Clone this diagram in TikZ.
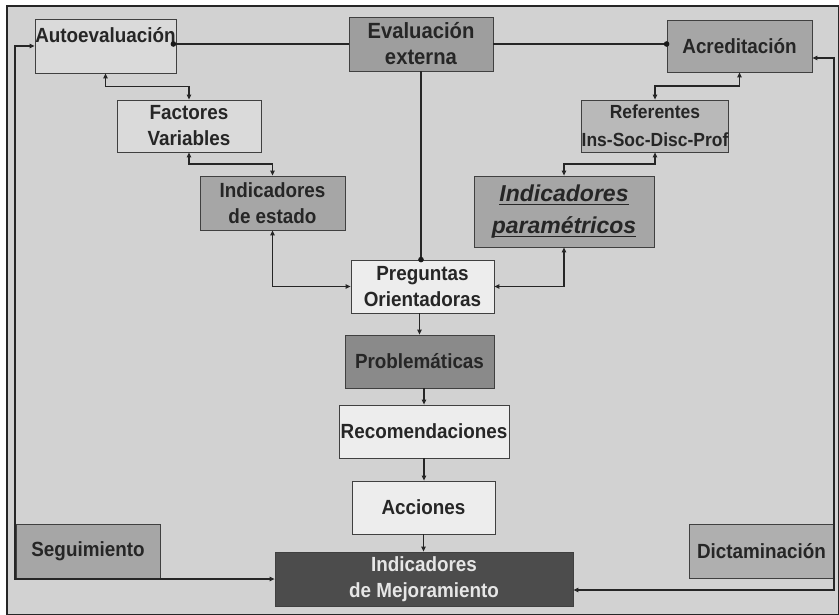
\documentclass[tikz,border=0pt]{standalone}
\usepackage{fontspec}
\setmainfont{Liberation Sans}
\newfontfamily\dfont{Liberation Sans}[FakeStretch=0.92]
\newfontfamily\pfont{Liberation Sans}
\usetikzlibrary{arrows.meta,calc}
\definecolor{bgc}{HTML}{D2D2D2}
\definecolor{lightbox}{HTML}{DADADA}
\definecolor{whitebox}{HTML}{EDEDED}
\definecolor{midbox}{HTML}{A6A6A6}
\definecolor{refbox}{HTML}{B9B9B9}
\definecolor{probbox}{HTML}{8A8A8A}
\definecolor{darkbox}{HTML}{4C4C4C}
\definecolor{lighttext}{HTML}{E6E6E6}
\newcommand{\thickul}[1]{\setbox0=\hbox{#1}\leavevmode\rlap{\rule[-4pt]{\wd0}{1.8pt}}\box0}
\tikzset{
  box/.style={draw=black!75, line width=0.8pt, inner sep=0pt, align=center,
    text=black!85, font=\dfont\bfseries\fontsize{20.5}{26}\selectfont},
  conn/.style={line width=1.1pt, draw=black!85},
  dbl/.style={conn, {Triangle[length=5pt,width=4.5pt]}-{Triangle[length=5pt,width=4.5pt]}},
  arr/.style={conn, -{Triangle[length=5pt,width=4.5pt]}},
  dotmark/.style={fill=black!90},
}
\begin{document}
\begin{tikzpicture}[x=1pt,y=-1pt]
\useasboundingbox (0,0) rectangle (839,615);
\fill[white] (0,0) rectangle (839,615);
\fill[bgc] (7,6) rectangle (839,615);
\draw[line width=1.4pt, black!85] (7,614.5) -- (7,6) -- (838.5,6) -- (838.5,614.5) -- cycle;

% nodes
\node[box, fill=lightbox, minimum width=141pt, minimum height=54pt, text depth=22pt] (auto) at (105.5,46) {Autoevaluación};
\node[box, fill=midbox!95!black, minimum width=144pt, minimum height=54pt, font=\dfont\bfseries\fontsize{22}{26}\selectfont] (eval) at (421,44) {Evaluación\\externa};
\node[box, fill=midbox, minimum width=145pt, minimum height=52pt] (acred) at (739.5,46) {Acreditación};
\node[box, fill=lightbox, minimum width=144pt, minimum height=52pt] (fact) at (189,126) {Factores\\Variables};
\node[box, fill=refbox, minimum width=144pt, minimum height=52pt, font=\dfont\bfseries\fontsize{19}{28}\selectfont] (ref) at (655,126) {Referentes\\Ins-Soc-Disc-Prof};
\node[box, fill=midbox, minimum width=145pt, minimum height=54pt] (indest) at (272.5,203) {Indicadores\\de estado};
\node[box, fill=refbox!90!black, minimum width=180pt, minimum height=71pt, font=\pfont\bfseries\itshape\fontsize{23}{32}\selectfont] (indpar) at (564,211.5) {\thickul{Indicadores}\\\thickul{paramétricos}};
\node[box, fill=whitebox, minimum width=143pt, minimum height=53pt] (preg) at (422.5,286.5) {Preguntas\\Orientadoras};
\node[box, fill=probbox, minimum width=149pt, minimum height=53pt] (prob) at (419.5,361.5) {Problemáticas};
\node[box, fill=whitebox, minimum width=170pt, minimum height=53pt] (recom) at (424,431.5) {Recomendaciones};
\node[box, fill=whitebox, minimum width=143pt, minimum height=53pt] (acc) at (423.5,507.5) {Acciones};
\node[box, fill=darkbox, text=lighttext, minimum width=298pt, minimum height=54pt] (mejor) at (424,579) {Indicadores\\de Mejoramiento};
\node[box, fill=midbox, minimum width=144pt, minimum height=55pt] (seg) at (88,551.5) {Seguimiento};
\node[box, fill=midbox!90!white, minimum width=145pt, minimum height=54pt] (dict) at (761.5,551) {Dictaminación};

\coordinate (lc) at (15,579);
\coordinate (rc) at (834,590);

% connectors from Evaluación externa, ending in dots
\draw[conn] (eval.west) -- (eval.west -| auto.east);
\fill[dotmark] ([xshift=-3pt]eval.west -| auto.east) circle (2.8pt);
\draw[conn] (eval.east) -- (eval.east -| acred.west);
\fill[dotmark] (eval.east -| acred.west) circle (2.8pt);
\draw[conn] (eval.south) -- (eval.south |- preg.north);
\fill[dotmark] (eval.south |- preg.north) circle (2.8pt);

\draw[dbl] (auto.south) |- ($(auto.south)!0.5!(fact.north)$) -| (fact.north);
\draw[dbl] (fact.south) |- ($(fact.south)!0.5!(indest.north)$) -| (indest.north);
\draw[dbl] (acred.south) |- ($(acred.south)!0.5!(ref.north)$) -| (ref.north);
\draw[dbl] (ref.south) |- ($(ref.south)!0.5!(indpar.north)$) -| (indpar.north);
\draw[dbl] (indest.south) |- (preg.west);
\draw[dbl] (indpar.south) |- (preg.east);

\draw[arr] (preg.south -| prob.north) -- (prob.north);
\draw[arr] (prob.south -| recom.north) -- (recom.north);
\draw[arr] (recom.south) -- (recom.south |- acc.north);
\draw[arr] (acc.south) -- (acc.south |- mejor.north);

\draw[dbl] (auto.west) -| (lc) -- (lc -| mejor.west);
\draw[dbl] ([yshift=-12pt]acred.east) -| (rc) -- (rc -| mejor.east);
\end{tikzpicture}
\end{document}
